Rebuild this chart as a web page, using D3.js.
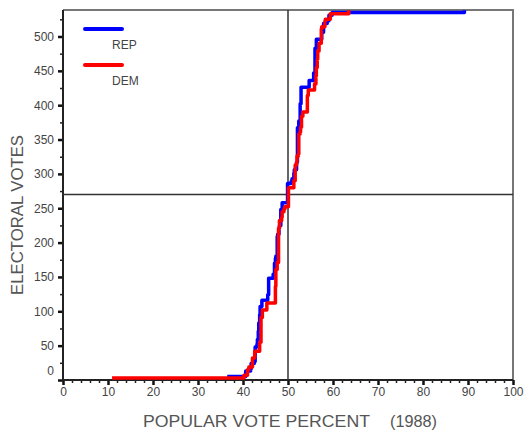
<!DOCTYPE html>
<html>
<head>
<meta charset="utf-8">
<script src="https://cdn.jsdelivr.net/npm/d3@7"></script>
<style>
  body { margin: 0; background: #fff; }
  svg { display: block; }
  text { font-family: "Liberation Sans", Arial, sans-serif; }
</style>
</head>
<body>
<svg id="chart" width="524" height="436"></svg>
<script>
// Cumulative electoral votes won as the national popular vote share rises (1988).
const repPct = [36.5, 40.6, 40.6, 41.7, 41.8, 42.5, 42.7, 43.1, 43.2, 43.4, 43.4, 43.5, 43.7, 43.8,
  44.2, 45.5, 45.7, 45.7, 46.7, 47.0, 47.2, 47.3, 47.6, 47.7, 48.0, 48.1, 48.4, 48.7, 49.9, 49.9,
  50.7, 50.9, 51.3, 51.4, 51.9, 52.1, 52.1, 52.4, 52.7, 52.9, 54.7, 55.7, 56.0, 56.3, 56.3, 57.5,
  57.9, 58.7, 59.1, 59.8, 89.2];
const repEV = [5, 9, 13, 16, 24, 27, 48, 52, 59, 64, 71, 83, 95, 107, 116, 124, 135, 148, 154, 170,
  177, 180, 209, 212, 221, 225, 248, 258, 278, 286, 289, 293, 301, 306, 317, 364, 367, 377, 402, 426,
  436, 447, 483, 489, 496, 506, 519, 523, 531, 535, 538];

const demPct = [10.9, 40.2, 41.0, 41.3, 42.1, 42.6, 43.7, 43.7, 44.0, 44.3, 45.3, 47.2, 47.3, 47.6,
  47.9, 47.9, 48.1, 48.6, 48.7, 49.1, 49.3, 50.1, 50.1, 51.3, 51.6, 51.9, 52.0, 52.3, 52.4, 52.7,
  52.8, 53.0, 53.3, 54.3, 54.3, 54.5, 55.9, 56.2, 56.3, 56.5, 56.6, 56.6, 56.9, 56.9, 57.4, 57.5,
  58.2, 58.3, 59.4, 59.4, 63.5];
const demEV = [3, 7, 15, 19, 32, 42, 49, 55, 91, 102, 112, 136, 161, 171, 174, 221, 232, 237, 245,
  249, 252, 260, 280, 290, 313, 317, 326, 329, 358, 361, 368, 384, 390, 403, 414, 422, 431, 443, 455,
  467, 474, 479, 486, 490, 511, 514, 522, 525, 529, 533, 538];

const xMajor = [0, 10, 20, 30, 40, 50, 60, 70, 80, 90, 100];
const yMajor = [0, 50, 100, 150, 200, 250, 300, 350, 400, 450, 500];
const seriesNames = ["REP", "DEM"];
const seriesColors = ["#0000ff", "#ff0000"];
const majorityEV = 270;
const evenSplit = 50;

const svg = d3.select("#chart");
const x = d3.scaleLinear().domain([0, 100]).range([63, 513]);
const y = d3.scaleLinear().domain([0, 540]).range([380, 9]);
const frameTop = 10;

// frame: top and right edges in grey
svg.append("path")
  .attr("d", `M${x(0)},${frameTop}H${x(100)}V${y(0)}`)
  .attr("fill", "none").attr("stroke", "#777").attr("stroke-width", 2);

// minor ticks
const xMinor = d3.range(0, 101, 2).filter(v => v % 10 !== 0);
const yMinor = d3.range(25, 540, 50);
svg.append("g").attr("transform", `translate(0,${y(0)})`)
  .call(d3.axisBottom(x).tickValues(xMinor).tickSize(3).tickFormat(""))
  .call(g => g.select(".domain").remove())
  .call(g => g.selectAll("line").attr("stroke", "#222").attr("stroke-width", 1.5));
svg.append("g").attr("transform", `translate(${x(0)},0)`)
  .call(d3.axisLeft(y).tickValues(yMinor).tickSize(3).tickFormat(""))
  .call(g => g.select(".domain").remove())
  .call(g => g.selectAll("line").attr("stroke", "#222").attr("stroke-width", 1.5));

// major ticks and labels
const xAxis = svg.append("g").attr("transform", `translate(0,${y(0)})`)
  .call(d3.axisBottom(x).tickValues(xMajor).tickSize(5).tickPadding(2).tickSizeOuter(0));
xAxis.select(".domain").remove();
xAxis.selectAll("line").attr("stroke", "#111").attr("stroke-width", 2.5);
xAxis.selectAll("text").attr("font-size", 12).attr("fill", "#444")
  .attr("font-family", "Liberation Sans, Arial, sans-serif");

const yAxis = svg.append("g").attr("transform", `translate(${x(0)},0)`)
  .call(d3.axisLeft(y).tickValues(yMajor).tickSize(5).tickPadding(4).tickSizeOuter(0));
yAxis.select(".domain").remove();
yAxis.selectAll("line").attr("stroke", "#111").attr("stroke-width", 2.5);
yAxis.selectAll("text").attr("font-size", 12).attr("fill", "#444")
  .attr("font-family", "Liberation Sans, Arial, sans-serif");
// the zero label sits a little above its tick
yAxis.selectAll(".tick").filter(d => d === 0).select("text").attr("dy", "-0.5em");

// left and bottom axis lines
svg.append("path")
  .attr("d", `M${x(0)},${frameTop}V${y(0)}H${x(100)}`)
  .attr("fill", "none").attr("stroke", "#222").attr("stroke-width", 2);

// reference lines: 50% of the vote and 270 electoral votes
svg.append("line")
  .attr("x1", x(evenSplit)).attr("x2", x(evenSplit)).attr("y1", frameTop).attr("y2", y(0))
  .attr("stroke", "#333").attr("stroke-width", 1.5);
svg.append("line")
  .attr("x1", x(0)).attr("x2", x(100)).attr("y1", y(majorityEV)).attr("y2", y(majorityEV))
  .attr("stroke", "#333").attr("stroke-width", 1.5);

// step curves
const line = d3.line().curve(d3.curveStepAfter).x(d => x(d[0])).y(d => y(d[1]));
const series = [d3.zip(repPct, repEV), d3.zip(demPct, demEV)];
series.forEach((pts, i) => {
  svg.append("path").datum(pts)
    .attr("d", line)
    .attr("fill", "none")
    .attr("stroke", seriesColors[i])
    .attr("stroke-width", 3.5)
    .attr("stroke-linejoin", "round");
});

// legend
const legend = svg.append("g");
seriesNames.forEach((name, i) => {
  const ly = 29 + i * 36;
  legend.append("line")
    .attr("x1", 85).attr("x2", 122).attr("y1", ly).attr("y2", ly)
    .attr("stroke", seriesColors[i]).attr("stroke-width", 4).attr("stroke-linecap", "round");
  legend.append("text")
    .attr("x", 112).attr("y", ly + 20)
    .attr("font-size", 12).attr("fill", "#444")
    .text(name);
});

// axis titles
svg.append("text")
  .attr("transform", `translate(23,${(y(0) + frameTop) / 2 + 20}) rotate(-90)`)
  .attr("text-anchor", "middle")
  .attr("font-size", 17).attr("fill", "#555")
  .attr("textLength", 160).attr("lengthAdjust", "spacingAndGlyphs")
  .text("ELECTORAL VOTES");
svg.append("text")
  .attr("x", 143).attr("y", 427)
  .attr("font-size", 17).attr("fill", "#555")
  .attr("textLength", 227).attr("lengthAdjust", "spacingAndGlyphs")
  .text("POPULAR VOTE PERCENT");
svg.append("text")
  .attr("x", 390).attr("y", 427)
  .attr("font-size", 17).attr("fill", "#555")
  .attr("textLength", 47).attr("lengthAdjust", "spacingAndGlyphs")
  .text("(1988)");
</script>
</body>
</html>
